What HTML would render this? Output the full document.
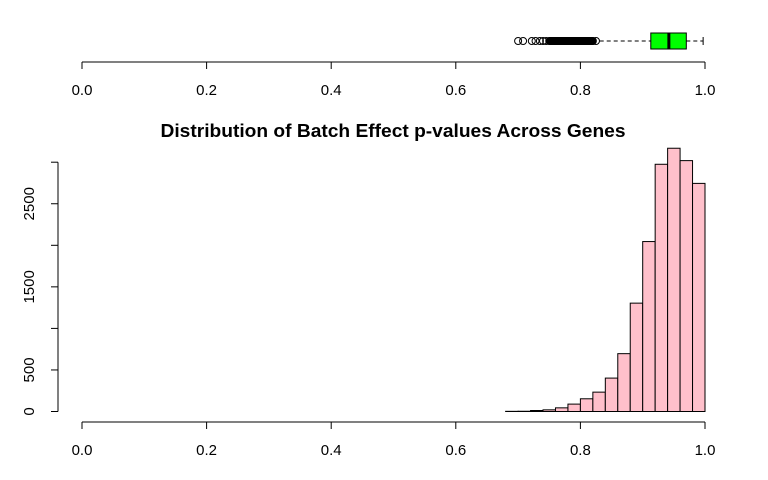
<!DOCTYPE html>
<html><head><meta charset="utf-8"><style>
body{margin:0;background:#fff}
svg{display:block;font-family:"Liberation Sans",sans-serif}
</style></head><body>
<svg id="c" width="768" height="480" viewBox="0 0 768 480"></svg>
<script>
const binStarts=[0.68,0.70,0.72,0.74,0.76,0.78,0.80,0.82,0.84,0.86,0.88,0.90,0.92,0.94,0.96,0.98];
const counts=[2,3,12,20,44,89,153,233,402,696,1304,2045,2975,3168,3019,2745];
const binWidth=0.02;
const xTicks=[0,0.2,0.4,0.6,0.8,1.0];
const xTickLabels=["0.0","0.2","0.4","0.6","0.8","1.0"];
const yTicks=[0,500,1000,1500,2000,2500,3000];
const yTickLabels=["0","500","","1500","","2500",""];
const boxStats=[0.831,0.913,0.942,0.970,0.997];
const outliers=[0.700,0.708,0.722,0.728,0.735,0.740,0.745,0.750,0.755,0.760,0.765,0.770,0.775,0.780,0.785,0.790,0.795,0.800,0.805,0.810,0.815,0.820,0.825];
const NS="http://www.w3.org/2000/svg";
const svg=document.getElementById('c');
const X=v=>82+v*623;
const Y=v=>411.5-v*0.0831;
function mk(t,a,p){const e=document.createElementNS(NS,t);for(const k in a)e.setAttribute(k,a[k]);(p||svg).appendChild(e);return e;}
function xAxis(y,name){
 const g=mk('g',{});
 
 
 mk('line',{x1:X(0),x2:X(1),y1:y,y2:y,stroke:'#000'},g);
 xTicks.forEach((v,i)=>{mk('line',{x1:X(v),x2:X(v),y1:y,y2:y+7,stroke:'#000'},g);
 const t=mk('text',{x:X(v),y:y+33,'text-anchor':'middle','font-size':15},g);t.textContent=xTickLabels[i];});
}
const bg=mk('g',{});


const by=41;
mk('line',{x1:X(boxStats[0]),x2:X(boxStats[1]),y1:by,y2:by,stroke:'#000','stroke-dasharray':'4,3'},bg);
mk('line',{x1:X(boxStats[3]),x2:X(boxStats[4]),y1:by,y2:by,stroke:'#000','stroke-dasharray':'4,3'},bg);
mk('line',{x1:X(boxStats[4]),x2:X(boxStats[4]),y1:by-4,y2:by+4,stroke:'#000'},bg);
mk('rect',{x:X(boxStats[1]),y:by-8,width:X(boxStats[3])-X(boxStats[1]),height:16,fill:'#00ff00',stroke:'#000'},bg);
mk('line',{x1:X(boxStats[2]),x2:X(boxStats[2]),y1:by-8,y2:by+8,stroke:'#000','stroke-width':3},bg);
outliers.forEach(v=>{const c=mk('circle',{cx:X(v),cy:by,r:3.5,fill:'none',stroke:'#000'},bg);
 
 });
mk('rect',{x:X(0.745),y:by-4,width:X(0.826)-X(0.745),height:8,rx:4,fill:'#000'},bg);
xAxis(62,'boxplot-x-axis');
const tt=mk('text',{x:393,y:137,'text-anchor':'middle','font-size':18,'font-weight':'bold',textLength:465,lengthAdjust:'spacingAndGlyphs'});
tt.textContent='Distribution of Batch Effect p-values Across Genes';


binStarts.forEach((s,i)=>{const r=mk('rect',{x:X(s),y:Y(counts[i]),width:X(s+binWidth)-X(s),height:Y(0)-Y(counts[i]),fill:'#ffc0cb',stroke:'#000','stroke-width':1});
 
 });
const yg=mk('g',{});


mk('line',{x1:58,x2:58,y1:Y(3000),y2:Y(0),stroke:'#000'},yg);
yTicks.forEach((v,i)=>{mk('line',{x1:51,x2:58,y1:Y(v),y2:Y(v),stroke:'#000'},yg);
 if(yTickLabels[i]){const t=mk('text',{x:34,y:Y(v),'text-anchor':'middle','font-size':15,transform:`rotate(-90 34 ${Y(v)})`},yg);t.textContent=yTickLabels[i];}});
xAxis(422,'histogram-x-axis');
</script>
</body></html>
